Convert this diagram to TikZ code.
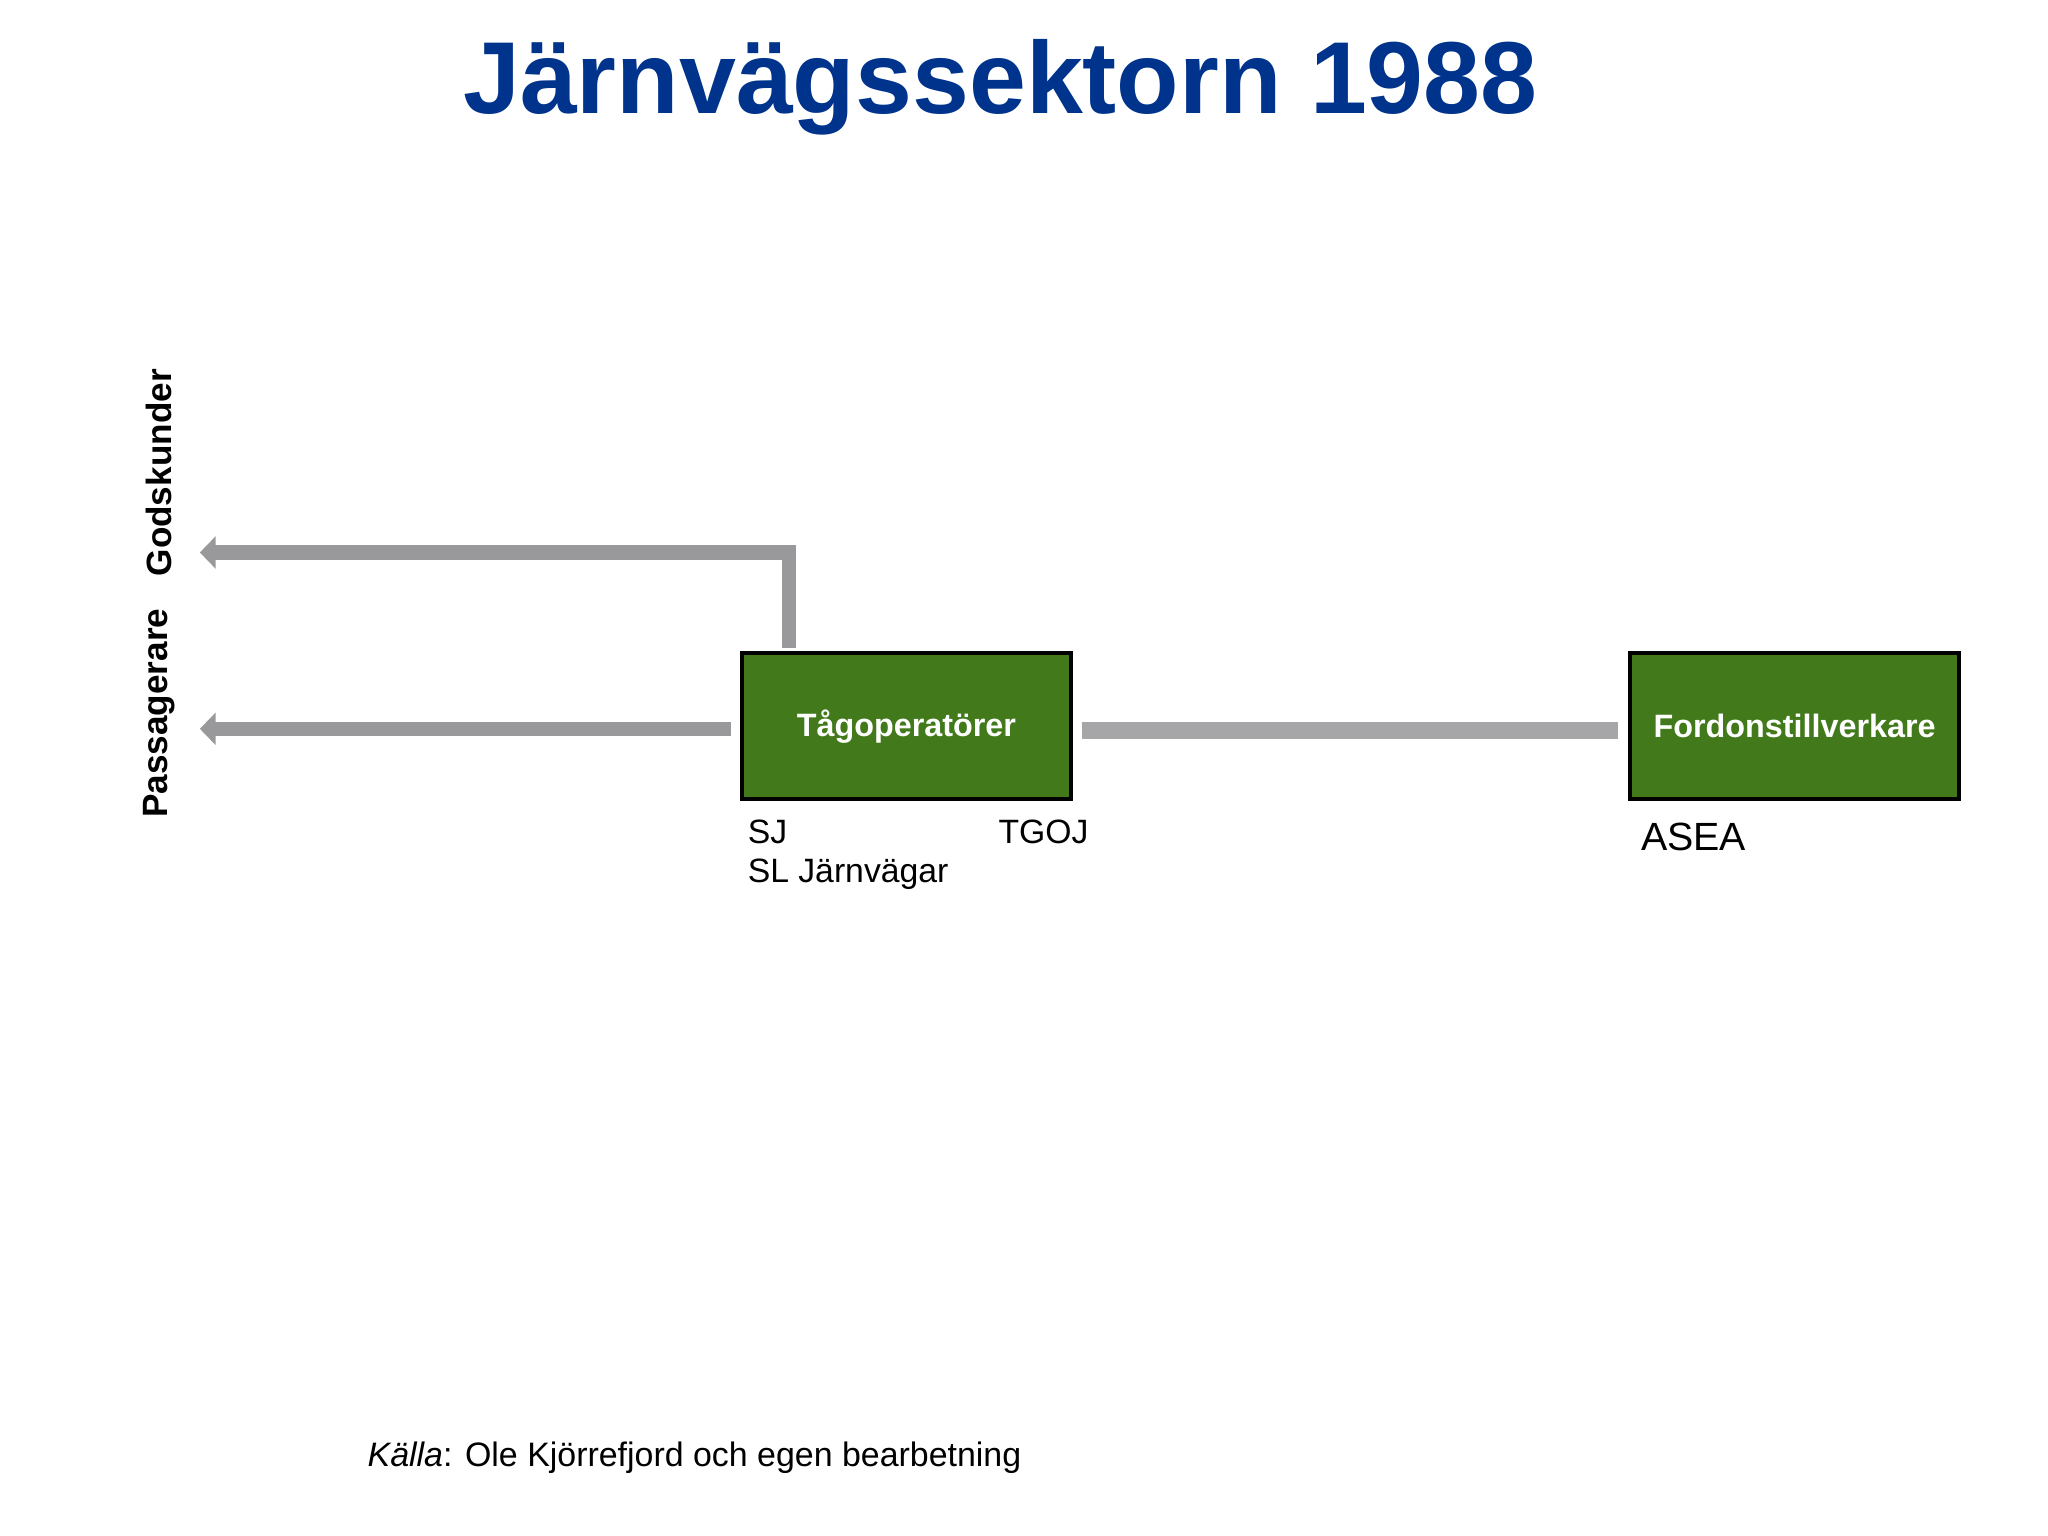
\documentclass[tikz,border=0pt]{standalone}
\usepackage{fontspec}
\setmainfont{Liberation Sans}
\usetikzlibrary{arrows.meta}
\definecolor{titleblue}{RGB}{0,51,140}
\definecolor{boxgreen}{RGB}{66,122,27}
\definecolor{arrowgray}{RGB}{153,153,155}
\definecolor{bargray}{RGB}{166,165,167}

\begin{document}
\begin{tikzpicture}[x=0.013061cm,y=-0.013061cm,
    actor/.style={draw=black,line width=1pt,fill=boxgreen,text=white,
      font=\fontsize{9.2}{11}\selectfont\bfseries,
      minimum width=3.29cm,minimum height=1.46cm,inner sep=0pt},
    flow/.style={draw=arrowgray,line width=4.1pt,line join=miter,
      -{Triangle[width=9pt,length=4.5pt]}},
    link/.style={draw=bargray,line width=4.8pt},
    market/.style={rotate=90,font=\fontsize{10}{12}\selectfont\bfseries},
    firm/.style={anchor=west,font=\fontsize{9.6}{11}\selectfont}]
            \useasboundingbox (0,0) rectangle (1568,1176);
            \node[font=\fontsize{29.1}{35}\selectfont\bfseries,text=titleblue]
                (title) at (766,67) {Järnvägssektorn 1988};
            \node[actor] (op) at (694,556) {Tågoperatörer};
            \node[actor] (fordon) at (1374,556) {Fordonstillverkare};
            \node[market] (gods) at (122,362) {Godskunder};
            \node[market] (pass) at (122,546) {Passagerare};
            \coordinate (G) at (153,423);
            \coordinate (P) at (153,558);
            \coordinate (Up) at (604,496);
            % flodena ut till kunderna
            \draw[flow] (Up) |- (G);
            \draw[flow] (op.west |- P) ++(-7,0) -- (P);
            \draw[link] ([xshift=2.6pt]op.east |- 0,559) -- ([xshift=-3pt]fordon.west |- 0,559);
            \node[firm] (sj) at (563,637) {SJ};
            \node[firm] (tgoj) at (755,637) {TGOJ};
            \node[firm] (sl) at (563,669) {SL Järnvägar};
            \node[firm,font=\fontsize{11.2}{13}\selectfont] (asea) at (1247,641) {ASEA};
            \node[anchor=west,font=\fontsize{9.65}{11}\selectfont] (kalla) at (272,1116)
                {\textit{Källa}: Ole Kjörrefjord och egen bearbetning};
        \end{tikzpicture}
\end{document}
